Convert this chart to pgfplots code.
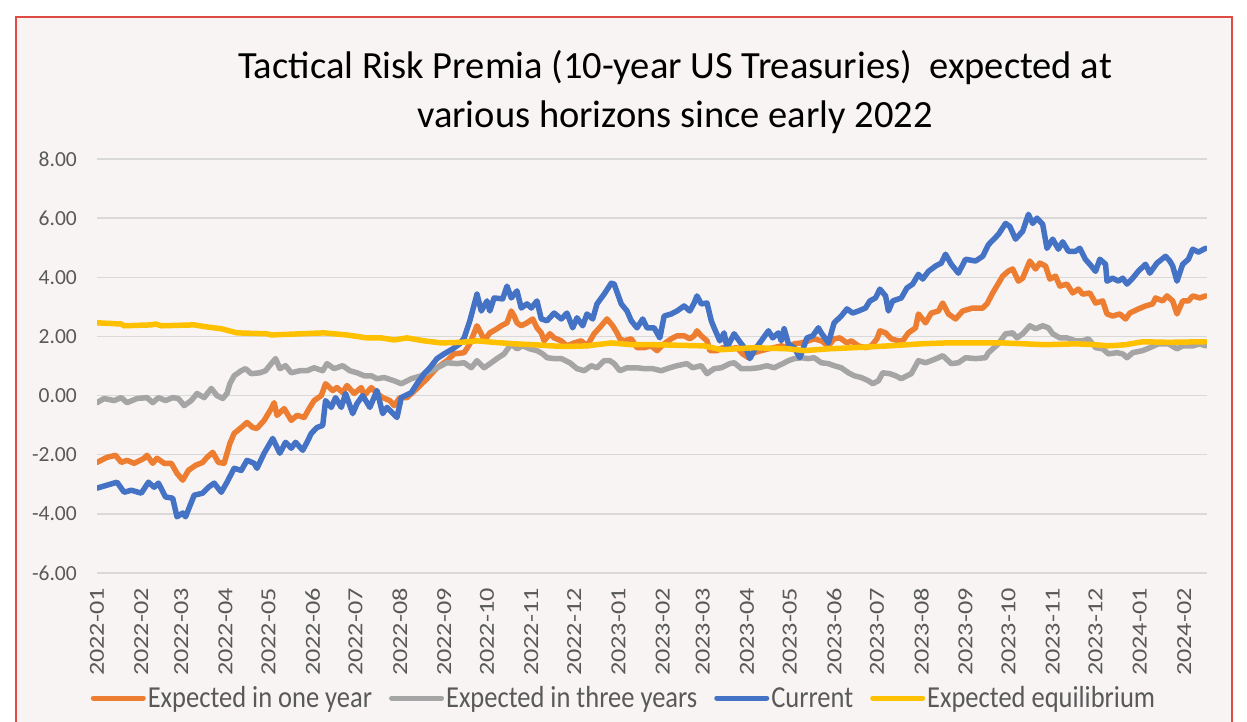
\documentclass[border=0pt]{standalone}
\usepackage{graphicx}
\usepackage{pgfplots}
\pgfplotsset{compat=1.18}
\usepackage{fontspec}
\setmainfont{Carlito}
\definecolor{cOrange}{HTML}{ED7D31}
\definecolor{cGray}{HTML}{A5A5A5}
\definecolor{cBlue}{HTML}{4472C4}
\definecolor{cYellow}{HTML}{FFC000}
\definecolor{bgpink}{HTML}{F9F4F4}
\definecolor{borderred}{HTML}{E04A45}
\definecolor{gridgray}{HTML}{D9D9D9}
\definecolor{ticktext}{HTML}{595959}
\newcommand\ys[1]{\scalebox{1}[1.15]{#1}}
\newcommand\rl[1]{\scalebox{1.22}[1]{#1}}
\begin{document}
\begin{tikzpicture}[x=1pt,y=1pt]
\path[use as bounding box] (0,0) rectangle (1247,722);
\fill[white] (0,0) rectangle (1247,722);
\filldraw[fill=bgpink, draw=borderred, line width=1.5pt] (16,-10) rectangle (1232,705);
\node[anchor=base, font=\fontsize{38.5}{46}\selectfont, inner sep=0pt] at (675,643) {Tactical Risk Premia (10-year US Treasuries)\ \ expected at};
\node[anchor=base, font=\fontsize{38.5}{46}\selectfont, inner sep=0pt] at (675,594) {various horizons since early 2022};
\begin{axis}[
  at={(97pt,149pt)}, anchor=south west, scale only axis,
  width=1110pt, height=414pt,
  xmin=0, xmax=777, ymin=-6, ymax=8,
  axis line style={draw=none},
  major tick length=0pt,
  ymajorgrids, grid style={color=gridgray, line width=1.3pt},
  ytick={-6,-4,-2,0,2,4,6,8},
  yticklabels={-6.00,-4.00,-2.00,0.00,2.00,4.00,6.00,8.00},
  yticklabel style={font=\fontsize{21.5}{26}\selectfont, text=ticktext, anchor=east, inner sep=0pt, xshift=-20pt},
  xtick={0,31,59,90,120,151,181,212,243,273,304,334,365,396,424,455,485,516,546,577,608,638,669,699,730,761},
  xticklabels={\rl{2022-01},\rl{2022-02},\rl{2022-03},\rl{2022-04},\rl{2022-05},\rl{2022-06},\rl{2022-07},\rl{2022-08},\rl{2022-09},\rl{2022-10},\rl{2022-11},\rl{2022-12},\rl{2023-01},\rl{2023-02},\rl{2023-03},\rl{2023-04},\rl{2023-05},\rl{2023-06},\rl{2023-07},\rl{2023-08},\rl{2023-09},\rl{2023-10},\rl{2023-11},\rl{2023-12},\rl{2024-01},\rl{2024-02}},
  xticklabel style={font=\fontsize{21.5}{26}\selectfont, text=ticktext, rotate=90, anchor=east, inner sep=0pt},
  xticklabel shift=15pt,
  legend columns=4,
  legend cell align=left,
  legend image code/.code={\draw[#1, line width=5pt, line cap=round] (0pt,0pt) -- (50pt,0pt);},
  legend style={draw=none, fill=none, font=\fontsize{26.5}{31}\selectfont, text=ticktext,
    at={(0.4748,-0.302)}, anchor=center,
    nodes={inner sep=2pt},
    /tikz/every even column/.append style={column sep=15pt}},
]
\addplot[cOrange, line width=5.5pt, line join=round, line cap=round] coordinates {
(0,-2.26)(7,-2.09)(13,-2.02)(17,-2.26)(21,-2.19)(26,-2.29)(33,-2.12)(35,-2.02)(39,-2.29)(42,-2.12)
(47,-2.29)(52,-2.29)(56,-2.63)(60,-2.86)(64,-2.53)(69,-2.36)(74,-2.26)(77,-2.09)(81,-1.92)(85,-2.26)
(89,-2.29)(93,-1.62)(96,-1.28)(101,-1.08)(105,-0.91)(109,-1.08)(112,-1.11)(117,-0.84)(122,-0.44)(124,-0.24)
(126,-0.67)(131,-0.44)(136,-0.84)(140,-0.67)(145,-0.74)(149,-0.40)(152,-0.17)(157,0.0)(160,0.40)(165,0.17)
(168,0.27)(172,0.10)(175,0.34)(180,0.07)(185,0.27)(187,0.0)(192,0.27)(196,0.07)(200,-0.07)(205,-0.17)
(208,-0.34)(212,-0.07)(217,-0.07)(224,0.24)(231,0.57)(238,0.94)(245,1.18)(250,1.41)(257,1.45)(261,1.75)
(264,2.12)(266,2.36)(269,2.09)(271,1.85)(275,2.12)(280,2.26)(283,2.36)(287,2.46)(290,2.86)(292,2.69)
(294,2.46)(297,2.36)(301,2.46)(305,2.59)(308,2.29)(311,2.12)(313,1.85)(317,2.09)(320,1.95)(325,1.85)
(329,1.68)(334,1.78)(339,1.85)(343,1.68)(348,2.09)(353,2.36)(357,2.59)(361,2.36)(364,2.12)(366,1.92)
(369,1.85)(374,1.92)(378,1.62)(383,1.62)(388,1.68)(392,1.52)(397,1.75)(402,1.92)(406,2.02)(411,2.02)
(415,1.92)(418,2.02)(420,2.19)(423,2.02)(427,1.85)(429,1.52)(434,1.52)(438,1.62)(443,1.58)(448,1.62)
(452,1.41)(456,1.28)(460,1.45)(465,1.52)(470,1.58)(474,1.62)(479,1.68)(484,1.62)(488,1.75)(493,1.78)
(498,1.85)(502,1.92)(507,1.85)(512,1.68)(516,1.92)(520,1.95)(525,1.78)(528,1.85)(533,1.68)(538,1.62)
(542,1.68)(546,1.92)(548,2.19)(552,2.12)(556,1.92)(561,1.85)(564,1.85)(568,2.12)(573,2.29)(575,2.76)
(580,2.46)(584,2.79)(589,2.86)(592,3.13)(596,2.76)(601,2.59)(606,2.86)(613,2.96)(620,2.96)(623,3.10)
(627,3.47)(634,4.04)(638,4.21)(641,4.28)(645,3.87)(648,3.97)(653,4.55)(657,4.28)(660,4.48)(664,4.38)
(667,3.94)(671,4.04)(674,3.70)(679,3.77)(683,3.47)(687,3.60)(690,3.43)(695,3.47)(699,3.13)(704,3.20)
(707,2.76)(711,2.69)(716,2.76)(720,2.59)(723,2.79)(729,2.93)(734,3.03)(739,3.10)(741,3.30)(746,3.20)
(749,3.37)(753,3.20)(756,2.76)(760,3.20)(764,3.20)(767,3.37)(772,3.30)(776,3.37)
};
\addlegendentry{\ys{Expected in one year}}
\addplot[cGray, line width=5.5pt, line join=round, line cap=round] coordinates {
(0,-0.24)(5,-0.10)(12,-0.17)(17,-0.07)(21,-0.24)(28,-0.10)(35,-0.07)(39,-0.24)(43,-0.07)(48,-0.17)
(53,-0.07)(57,-0.10)(61,-0.34)(66,-0.17)(70,0.07)(75,-0.07)(80,0.24)(84,0.0)(88,-0.10)(91,0.07)
(93,0.40)(96,0.67)(101,0.84)(104,0.91)(108,0.74)(114,0.77)(118,0.84)(122,1.08)(125,1.25)(128,0.91)
(132,1.01)(136,0.77)(142,0.84)(147,0.84)(152,0.94)(158,0.84)(161,1.08)(166,0.91)(172,1.01)(177,0.84)
(182,0.77)(187,0.67)(192,0.67)(196,0.57)(201,0.61)(208,0.50)(213,0.40)(220,0.57)(227,0.67)(234,0.84)
(241,1.01)(245,1.11)(252,1.08)(257,1.11)(262,0.94)(266,1.18)(271,0.94)(276,1.11)(280,1.25)(285,1.41)
(290,1.75)(294,1.58)(298,1.68)(303,1.58)(308,1.52)(312,1.41)(315,1.28)(320,1.25)(325,1.25)(331,1.11)
(336,0.91)(341,0.84)(346,1.01)(350,0.94)(355,1.18)(359,1.18)(362,1.08)(366,0.84)(371,0.94)(378,0.94)
(383,0.91)(389,0.91)(395,0.84)(401,0.94)(406,1.01)(413,1.08)(417,0.94)(423,1.01)(427,0.74)(432,0.91)
(437,0.94)(443,1.08)(446,1.11)(451,0.91)(457,0.91)(463,0.94)(469,1.01)(474,0.94)(480,1.08)(484,1.18)
(488,1.25)(493,1.28)(498,1.25)(502,1.28)(507,1.11)(512,1.08)(516,1.01)(521,0.94)(526,0.77)(530,0.67)
(535,0.61)(540,0.50)(543,0.40)(547,0.50)(550,0.77)(555,0.74)(559,0.67)(563,0.57)(567,0.67)(570,0.74)
(575,1.18)(580,1.11)(584,1.18)(589,1.28)(592,1.35)(598,1.08)(603,1.11)(608,1.28)(615,1.25)(622,1.28)
(624,1.45)(631,1.75)(636,2.09)(641,2.12)(644,1.95)(648,2.09)(653,2.36)(657,2.26)(662,2.36)(666,2.29)
(669,2.09)(674,1.95)(679,1.95)(685,1.85)(690,1.85)(694,1.92)(699,1.62)(704,1.58)(708,1.41)(714,1.45)
(718,1.41)(721,1.28)(725,1.45)(732,1.52)(737,1.62)(743,1.75)(750,1.75)(756,1.58)(760,1.68)(767,1.68)
(772,1.75)(776,1.68)
};
\addlegendentry{\ys{Expected in three years}}
\addplot[cBlue, line width=5.5pt, line join=round, line cap=round] coordinates {
(0,-3.13)(7,-3.03)(14,-2.93)(19,-3.27)(24,-3.20)(31,-3.30)(36,-2.93)(40,-3.10)(43,-2.96)(48,-3.43)
(53,-3.47)(56,-4.10)(60,-3.97)(62,-4.10)(68,-3.37)(74,-3.30)(78,-3.10)(82,-2.96)(87,-3.27)(91,-2.93)
(96,-2.46)(101,-2.53)(105,-2.19)(110,-2.29)(112,-2.46)(117,-1.95)(123,-1.45)(128,-1.95)(132,-1.58)(136,-1.78)
(139,-1.58)(144,-1.85)(147,-1.58)(150,-1.28)(154,-1.08)(158,-1.01)(160,-0.17)(164,-0.40)(167,-0.07)(171,-0.40)
(174,0.07)(179,-0.61)(182,-0.27)(186,0.0)(191,-0.40)(196,0.17)(200,-0.61)(203,-0.40)(210,-0.74)(213,-0.07)
(220,0.10)(224,0.40)(229,0.74)(233,0.94)(238,1.25)(243,1.41)(249,1.58)(254,1.75)(257,1.95)(261,2.53)
(266,3.43)(269,2.86)(273,3.20)(275,2.86)(278,3.30)(284,3.27)(287,3.70)(290,3.30)(294,3.54)(297,2.96)
(301,3.10)(304,2.96)(308,3.20)(311,2.59)(315,2.53)(320,2.79)(325,2.59)(329,2.79)(333,2.29)(336,2.63)
(340,2.36)(343,2.76)(347,2.59)(350,3.10)(355,3.43)(360,3.80)(362,3.77)(367,3.10)(371,2.86)(374,2.53)
(378,2.29)(382,2.59)(385,2.29)(390,2.29)(394,1.95)(397,2.69)(402,2.76)(406,2.86)(411,3.03)(415,2.86)
(418,3.13)(420,3.37)(423,3.10)(427,3.13)(430,2.53)(432,2.29)(436,1.85)(439,2.12)(441,1.62)(446,2.09)
(451,1.75)(455,1.52)(457,1.25)(460,1.52)(465,1.85)(470,2.19)(473,1.95)(477,2.12)(479,1.85)(481,2.26)
(484,1.75)(488,1.62)(492,1.28)(497,1.95)(501,2.02)(505,2.29)(507,2.12)(512,1.78)(516,2.46)(521,2.69)
(525,2.93)(529,2.79)(533,2.86)(538,2.96)(541,3.20)(545,3.30)(548,3.60)(552,3.37)(554,2.86)(557,3.20)
(563,3.30)(567,3.64)(571,3.77)(575,4.10)(578,3.94)(582,4.20)(587,4.38)(591,4.48)(594,4.78)(598,4.44)
(603,4.14)(608,4.61)(615,4.55)(620,4.71)(624,5.10)(631,5.45)(636,5.82)(639,5.72)(643,5.29)(648,5.56)
(652,6.13)(655,5.82)(658,6.00)(662,5.79)(665,4.98)(669,5.29)(673,4.95)(676,5.20)(680,4.88)(685,4.88)
(688,4.98)(692,4.60)(695,4.44)(699,4.20)(702,4.61)(706,4.44)(707,3.87)(711,3.97)(715,3.87)(718,3.97)
(721,3.77)(725,3.97)(729,4.21)(734,4.44)(737,4.14)(742,4.48)(748,4.71)(751,4.55)(753,4.38)(756,3.87)
(760,4.44)(764,4.61)(767,4.95)(771,4.85)(776,4.98)
};
\addlegendentry{\ys{Current}}
\addplot[cYellow, line width=5.5pt, line join=round, line cap=round] coordinates {
(0,2.46)(17,2.42)(19,2.36)(38,2.39)(41,2.42)(45,2.36)(68,2.39)(77,2.32)(87,2.26)(98,2.12)
(119,2.09)(122,2.05)(159,2.12)(175,2.05)(189,1.95)(199,1.95)(208,1.88)(217,1.95)(229,1.85)(241,1.78)
(255,1.80)(266,1.85)(278,1.80)(292,1.75)(306,1.72)(318,1.68)(329,1.66)(343,1.68)(360,1.78)(374,1.72)
(390,1.72)(425,1.68)(437,1.55)(460,1.62)(484,1.58)(495,1.52)(512,1.58)(530,1.62)(554,1.68)(577,1.75)
(594,1.78)(615,1.78)(634,1.78)(664,1.72)(685,1.75)(699,1.72)(708,1.68)(720,1.72)(732,1.82)(750,1.80)
(776,1.82)
};
\addlegendentry{\ys{Expected equilibrium}}
\end{axis}
\end{tikzpicture}
\end{document}
